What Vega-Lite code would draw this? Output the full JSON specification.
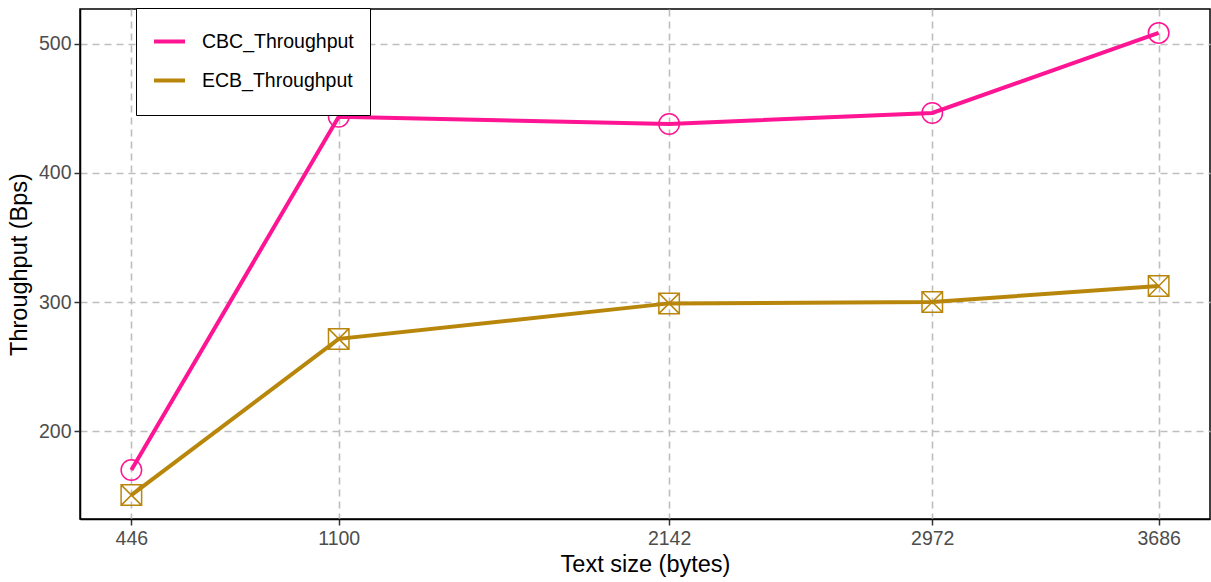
{
  "$schema": "https://vega.github.io/schema/vega-lite/v6.json",
  "width": 1130,
  "height": 510,
  "autosize": {"type": "none"},
  "padding": {"left": 80, "top": 9, "right": 1, "bottom": 63},
  "background": "white",
  "config": {
    "font": "Liberation Sans",
    "view": {"stroke": "black", "strokeWidth": 1.5},
    "axis": {
      "labelFont": "Liberation Sans",
      "labelFontSize": 19.5,
      "labelColor": "#4D4D4D",
      "titleFont": "Liberation Sans",
      "titleFontSize": 23.5,
      "titleFontWeight": "normal",
      "titleColor": "black",
      "domainColor": "black",
      "domainWidth": 1.5,
      "tickColor": "#333333",
      "tickWidth": 1.5,
      "tickSize": 6,
      "gridColor": "#BEBEBE",
      "gridDash": [7, 5],
      "gridWidth": 1.6
    }
  },
  "data": {
    "values": [
      {"size": 446, "series": "CBC_Throughput", "throughput": 170},
      {"size": 1100, "series": "CBC_Throughput", "throughput": 443.5},
      {"size": 2142, "series": "CBC_Throughput", "throughput": 438},
      {"size": 2972, "series": "CBC_Throughput", "throughput": 446.5},
      {"size": 3686, "series": "CBC_Throughput", "throughput": 508.5},
      {"size": 446, "series": "ECB_Throughput", "throughput": 150.5},
      {"size": 1100, "series": "ECB_Throughput", "throughput": 271.5},
      {"size": 2142, "series": "ECB_Throughput", "throughput": 299},
      {"size": 2972, "series": "ECB_Throughput", "throughput": 300},
      {"size": 3686, "series": "ECB_Throughput", "throughput": 312.5}
    ]
  },
  "encoding": {
    "x": {
      "field": "size",
      "type": "quantitative",
      "title": "Text size (bytes)",
      "scale": {"domain": [284, 3848], "nice": false, "zero": false},
      "axis": {"values": [446, 1100, 2142, 2972, 3686], "format": "d", "titlePadding": 5, "labelPadding": 4}
    },
    "y": {
      "field": "throughput",
      "type": "quantitative",
      "title": "Throughput (Bps)",
      "scale": {"domain": [132, 527], "nice": false, "zero": false},
      "axis": {"values": [200, 300, 400, 500], "format": "d", "titlePadding": 7, "labelPadding": 3}
    }
  },
  "layer": [
    {
      "mark": {"type": "line", "strokeWidth": 4},
      "encoding": {
        "color": {
          "field": "series",
          "type": "nominal",
          "scale": {"domain": ["CBC_Throughput", "ECB_Throughput"], "range": ["#FF1493", "#B8860B"]},
          "legend": {
            "title": null,
            "orient": "none",
            "legendX": 56,
            "legendY": -1,
            "symbolType": "M-1,0H1M0,-0.63M0,0.63",
            "symbolSize": 961,
            "symbolStrokeWidth": 4,
            "labelFont": "Liberation Sans",
            "labelFontSize": 19.5,
            "labelColor": "black",
            "labelOffset": 15,
            "rowPadding": 2,
            "padding": 16,
            "strokeColor": "black",
            "fillColor": "white"
          }
        }
      }
    },
    {
      "transform": [{"filter": "datum.series === 'CBC_Throughput'"}],
      "mark": {"type": "point", "shape": "circle", "filled": false, "stroke": "#FF1493", "strokeWidth": 1.5, "size": 420, "opacity": 1}
    },
    {
      "transform": [{"filter": "datum.series === 'ECB_Throughput'"}],
      "mark": {"type": "point", "shape": "M-1,-1L1,-1L1,1L-1,1Z M-1,-1L1,1 M1,-1L-1,1", "filled": false, "stroke": "#B8860B", "strokeWidth": 1.5, "size": 420, "opacity": 1}
    }
  ]
}
